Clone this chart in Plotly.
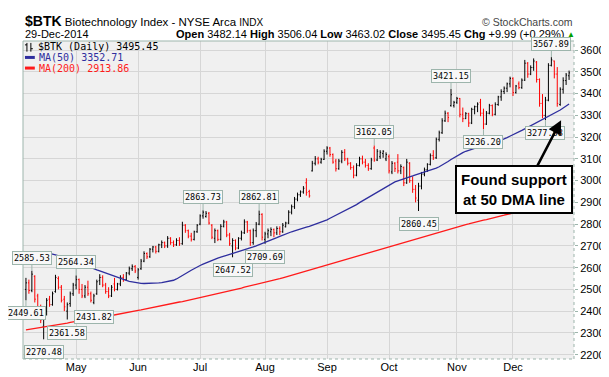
import plotly.graph_objects as go
import pandas as pd

# ---------------- data ----------------
holidays = ["2014-04-18", "2014-05-26", "2014-07-04", "2014-09-01", "2014-11-27", "2014-12-25"]
dates = [d for d in pd.bdate_range("2014-04-07", "2014-12-29") if d.strftime("%Y-%m-%d") not in holidays]

opens = [2500, 2530, 2495, 2560, 2470, 2420, 2330, 2400, 2455, 2430, 2490, 2550, 2510, 2455, 2400, 2435, 2480,
         2520, 2545, 2500, 2470, 2510, 2480, 2440, 2480, 2540, 2555, 2520, 2490, 2470, 2525, 2500, 2525, 2555, 2545, 2575, 2595, 2605,
         2555, 2595, 2630, 2665, 2650, 2685, 2695, 2675, 2705, 2715, 2700, 2735, 2715, 2705, 2725, 2710, 2795, 2770, 2745, 2730, 2765,
         2800, 2838, 2835, 2850, 2795, 2735, 2770, 2730, 2790, 2810, 2750, 2700, 2725, 2690, 2735, 2760, 2810, 2770, 2715, 2770, 2800, 2845,
         2730, 2755, 2765, 2775, 2760, 2780, 2765, 2788, 2805, 2855, 2880, 2915, 2935, 2948, 2990, 2950, 3045, 3080, 3100, 3085, 3098,
         3135, 3150, 3120, 3090, 3055, 3090, 3130, 3100, 3080, 3060, 3025, 3070, 3100, 3085, 3070, 3055, 3150, 3095, 3110, 3125, 3100,
         3110, 3040, 3080, 3085, 3045, 3060, 2990, 3080, 3000, 2960, 2910, 2975, 3030, 3050, 3075, 3115, 3105, 3190, 3220, 3275, 3310, 3345, 3345,
         3360, 3378, 3305, 3285, 3308, 3265, 3328, 3340, 3360, 3310, 3260, 3310, 3345, 3305, 3350, 3385, 3410, 3425, 3445,
         3470, 3405, 3445, 3428, 3462, 3540, 3490, 3520, 3545, 3465, 3355, 3300, 3370, 3530, 3550, 3490, 3350, 3420, 3460, 3482.14]
highs = [2553, 2545, 2585.53, 2565, 2480, 2430, 2410, 2460, 2470, 2490, 2567, 2560, 2520, 2470, 2440, 2490, 2530,
         2564.34, 2550, 2525, 2520, 2540, 2490, 2480, 2545, 2570, 2565, 2530, 2510, 2520, 2553, 2530, 2565, 2570, 2580, 2605, 2615, 2612,
         2598, 2640, 2675, 2670, 2690, 2700, 2700, 2710, 2725, 2720, 2745, 2740, 2725, 2735, 2740, 2811, 2800, 2775, 2760, 2770, 2800,
         2845, 2863.73, 2860, 2856, 2800, 2780, 2775, 2800, 2820, 2815, 2760, 2735, 2730, 2740, 2770, 2822, 2815, 2775, 2780, 2810, 2862.81, 2850,
         2765, 2780, 2785, 2780, 2790, 2790, 2805, 2811, 2864, 2890, 2925, 2945, 2955, 2975, 3011, 2958, 3091, 3113, 3110, 3105, 3144,
         3158, 3155, 3125, 3100, 3100, 3140, 3145, 3105, 3085, 3070, 3080, 3110, 3115, 3100, 3080, 3105, 3162.05, 3145, 3140, 3140, 3130,
         3120, 3090, 3085, 3122, 3075, 3065, 3100, 3085, 3020, 2980, 2990, 3040, 3060, 3080, 3125, 3140, 3198, 3230, 3287, 3322, 3315, 3421.15, 3367,
         3385, 3380, 3336, 3315, 3312, 3335, 3345, 3360, 3376, 3331, 3320, 3353, 3350, 3360, 3390, 3420, 3433, 3451, 3478,
         3475, 3440, 3456, 3470, 3555, 3545, 3530, 3562, 3550, 3470, 3398, 3385, 3540, 3567.89, 3552, 3522, 3429, 3475, 3495, 3506.04]
lows = [2449.61, 2480, 2487, 2440, 2410, 2345, 2270.48, 2380, 2420, 2425, 2485, 2500, 2440, 2400, 2361.58, 2420, 2470,
        2500, 2480, 2460, 2460, 2470, 2440, 2431.82, 2475, 2520, 2510, 2480, 2460, 2465, 2491, 2495, 2515, 2535, 2540, 2565, 2585, 2575,
        2545, 2590, 2625, 2640, 2645, 2670, 2665, 2670, 2690, 2690, 2691, 2705, 2695, 2700, 2700, 2705, 2760, 2735, 2720, 2725, 2760,
        2795, 2825, 2830, 2798, 2731, 2713, 2722, 2725, 2785, 2740, 2700, 2647.52, 2680, 2685, 2725, 2755, 2760, 2700, 2705, 2740, 2795, 2725,
        2709.69, 2735, 2745, 2740, 2750, 2750, 2760, 2785, 2800, 2845, 2870, 2905, 2925, 2940, 2931, 2922, 3042, 3070, 3075, 3078, 3095,
        3120, 3110, 3078, 3042, 3050, 3080, 3090, 3070, 3050, 3011, 3020, 3065, 3075, 3060, 3045, 3050, 3087, 3090, 3100, 3105, 3090,
        3033, 3030, 3040, 3033, 3030, 2975, 2985, 2990, 2944, 2900, 2860.45, 2960, 3020, 3040, 3070, 3095, 3100, 3180, 3215, 3270, 3269, 3340, 3336,
        3353, 3291, 3269, 3283, 3247, 3260, 3305, 3315, 3296, 3236.20, 3256, 3305, 3296, 3300, 3344, 3367, 3398, 3407, 3429,
        3389, 3400, 3420, 3422, 3458, 3473, 3485, 3505, 3451, 3340, 3287, 3277.88, 3365, 3525, 3470, 3340, 3344, 3400, 3440, 3463.02]
closes = [2530, 2495, 2570, 2455, 2420, 2360, 2395, 2450, 2430, 2480, 2555, 2510, 2450, 2420, 2430, 2480, 2520,
          2545, 2500, 2470, 2510, 2480, 2450, 2470, 2535, 2555, 2520, 2490, 2470, 2510, 2500, 2525, 2555, 2545, 2575, 2595, 2605, 2585,
          2590, 2630, 2665, 2650, 2685, 2695, 2675, 2705, 2715, 2700, 2735, 2715, 2705, 2725, 2710, 2795, 2770, 2745, 2730, 2765, 2795,
          2838, 2855, 2850, 2805, 2740, 2770, 2730, 2790, 2810, 2750, 2710, 2725, 2690, 2735, 2760, 2810, 2770, 2715, 2770, 2800, 2845, 2740,
          2755, 2770, 2775, 2760, 2780, 2765, 2795, 2805, 2855, 2880, 2915, 2935, 2948, 2965, 2945, 2930, 3080, 3100, 3085, 3098, 3135,
          3150, 3120, 3085, 3055, 3090, 3130, 3100, 3080, 3060, 3025, 3070, 3100, 3085, 3070, 3055, 3095, 3095, 3135, 3130, 3135, 3120,
          3045, 3080, 3055, 3045, 3065, 2990, 3085, 3000, 2960, 2920, 2975, 3030, 3050, 3075, 3115, 3105, 3190, 3220, 3275, 3310, 3290, 3395, 3360,
          3378, 3305, 3285, 3308, 3265, 3328, 3340, 3352, 3310, 3260, 3310, 3345, 3305, 3350, 3385, 3410, 3425, 3445, 3470,
          3405, 3435, 3428, 3462, 3540, 3490, 3520, 3550, 3465, 3355, 3300, 3370, 3530, 3555, 3490, 3355, 3420, 3460, 3485.46, 3495.45]

ma50 = [2673, 2673, 2672, 2671, 2670, 2668, 2667, 2666, 2664, 2662, 2659, 2655, 2651, 2647, 2643, 2639, 2634,
        2629, 2623, 2617, 2612, 2607, 2601, 2596, 2590, 2585, 2580, 2575, 2570, 2565, 2559, 2553, 2549, 2545, 2541, 2537, 2534, 2531,
        2529, 2528, 2527, 2527, 2527, 2528, 2529, 2530, 2531, 2533, 2535, 2538, 2542, 2548, 2555, 2563, 2572, 2580, 2588, 2596, 2603,
        2610, 2616, 2622, 2628, 2634, 2639, 2644, 2648, 2652, 2656, 2660, 2664, 2668, 2673, 2677, 2681, 2686, 2691, 2695, 2700, 2705, 2710,
        2715, 2720, 2726, 2732, 2738, 2744, 2750, 2755, 2760, 2765, 2769, 2774, 2778, 2782, 2786, 2790, 2795, 2799, 2803, 2808, 2814,
        2820, 2827, 2834, 2841, 2848, 2855, 2862, 2868, 2874, 2882, 2890, 2899, 2907, 2915, 2923, 2931, 2939, 2947, 2955, 2963, 2972,
        2980, 2988, 2994, 2999, 3003, 3007, 3012, 3017, 3022, 3027, 3031, 3035, 3040, 3044, 3048, 3053, 3058, 3064, 3071, 3079, 3088, 3097, 3106,
        3114, 3122, 3129, 3135, 3140, 3145, 3149, 3153, 3157, 3161, 3165, 3169, 3173, 3177, 3182, 3187, 3192, 3198, 3204,
        3210, 3217, 3224, 3231, 3238, 3245, 3252, 3259, 3266, 3273, 3280, 3287, 3294, 3301, 3309, 3317, 3325, 3334, 3343, 3352.71]
ma200 = [2314, 2316, 2318, 2321, 2323, 2325, 2327, 2330, 2332, 2334, 2336, 2339, 2341, 2343, 2345, 2348, 2350,
         2352, 2354, 2357, 2359, 2361, 2363, 2366, 2368, 2370, 2372, 2375, 2377, 2380, 2383, 2385, 2388, 2390, 2393, 2396, 2398, 2401,
         2404, 2406, 2409, 2412, 2414, 2417, 2419, 2422, 2425, 2428, 2430, 2433, 2436, 2439, 2442, 2444, 2447, 2450, 2453, 2456, 2458,
         2461, 2464, 2467, 2470, 2473, 2477, 2480, 2483, 2487, 2490, 2493, 2496, 2500, 2503, 2506, 2510, 2513, 2516, 2519, 2523, 2526, 2529,
         2533, 2536, 2539, 2543, 2546, 2549, 2553, 2557, 2561, 2565, 2569, 2573, 2577, 2581, 2585, 2589, 2593, 2597, 2601, 2605, 2609,
         2613, 2617, 2621, 2625, 2629, 2633, 2637, 2641, 2645, 2649, 2653, 2657, 2661, 2665, 2669, 2673, 2677, 2681, 2685, 2689, 2693,
         2697, 2701, 2705, 2709, 2713, 2717, 2721, 2725, 2729, 2733, 2737, 2741, 2745, 2749, 2753, 2757, 2761, 2765, 2769, 2773, 2777, 2781, 2785,
         2788, 2791, 2795, 2798, 2801, 2805, 2808, 2811, 2815, 2818, 2821, 2825, 2828, 2831, 2835, 2838, 2841, 2845, 2848,
         2851, 2855, 2858, 2861, 2865, 2868, 2871, 2874, 2878, 2881, 2884, 2888, 2891, 2894, 2898, 2901, 2904, 2907, 2911, 2913.86]

high_labels = [2, 17, 60, 79, 118, 144, 178]
low_labels = [0, 6, 14, 23, 70, 81, 133, 155, 176]

symbol = "$BTK"
title_rest = "Biotechnology Index - NYSE Arca"
exchange = "INDX"
note_text = "Found support<br>at 50 DMA line"

# ---------------- figure ----------------
idx = list(range(len(dates)))
month_ticks = [i for i in idx if i > 0 and dates[i].month != dates[i - 1].month]
month_text = [dates[i].strftime("%b") for i in month_ticks]

W, H = 609, 377
L, R, T, B = 15, 575, 33, 362  # plot area in pixels


def px(X):
    return (X - L) / (R - L)


def py(Y):
    return (B - Y) / (B - T)


fig = go.Figure()
fig.add_trace(go.Ohlc(
    x=idx, open=opens, high=highs, low=lows, close=closes,
    increasing=dict(line=dict(color="#000000", width=1)),
    decreasing=dict(line=dict(color="#ff0000", width=1)),
    tickwidth=0.33, showlegend=False, hoverinfo="skip"))
fig.add_trace(go.Scatter(x=idx, y=ma200, mode="lines", line=dict(color="#ff1a1a", width=1.3),
                         showlegend=False, hoverinfo="skip"))
fig.add_trace(go.Scatter(x=idx, y=ma50, mode="lines", line=dict(color="#2e2e9e", width=1.3),
                         showlegend=False, hoverinfo="skip"))

base_font = "Liberation Sans, Arial, sans-serif"
mono_font = "DejaVu Sans Mono, monospace"
box_col = "#9db5ac"

ann = []
# header line 1
ann.append(dict(xref="paper", yref="paper", x=px(15), y=py(12), xanchor="left", yanchor="middle",
                text=f"<b><span style='font-size:14px'>{symbol}</span></b> {title_rest} "
                     f"<span style='font-size:10px'>{exchange}</span>",
                showarrow=False, font=dict(family=base_font, size=11.5, color="#000")))
ann.append(dict(xref="paper", yref="paper", x=px(576), y=py(13), xanchor="right", yanchor="middle",
                text="© StockCharts.com", showarrow=False,
                font=dict(family=base_font, size=10.5, color="#444")))
# header line 2
d_last = dates[-1]
ann.append(dict(xref="paper", yref="paper", x=px(15), y=py(26), xanchor="left", yanchor="middle",
                text=d_last.strftime("%d-%b-%Y"), showarrow=False,
                font=dict(family=base_font, size=11, color="#000")))
chg = closes[-1] - closes[-2]
pct = chg / closes[-2] * 100
ohlc_txt = (f"<b>Open</b> {opens[-1]:.2f} <b>High</b> {highs[-1]:.2f} <b>Low</b> {lows[-1]:.2f} "
            f"<b>Close</b> {closes[-1]:.2f} <b>Chg</b> {chg:+.2f} ({pct:+.2f}%)")
ann.append(dict(xref="paper", yref="paper", x=px(567), y=py(26), xanchor="right", yanchor="middle",
                text=ohlc_txt, showarrow=False, font=dict(family=base_font, size=11, color="#000")))
ann.append(dict(xref="paper", yref="paper", x=px(572), y=py(26), xanchor="center", yanchor="middle",
                text="▲", showarrow=False, font=dict(family=base_font, size=8, color="#00a000")))

# legend texts
ann.append(dict(xref="paper", yref="paper", x=px(28), y=py(39), xanchor="left", yanchor="middle",
                text=f"{symbol} (Daily) {closes[-1]:.2f}", showarrow=False,
                font=dict(family=mono_font, size=10, color="#000")))
ann.append(dict(xref="paper", yref="paper", x=px(29), y=py(50), xanchor="left", yanchor="middle",
                text=f"MA(50) {ma50[-1]:.2f}", showarrow=False,
                font=dict(family=mono_font, size=10, color="#2e2e9e")))
ann.append(dict(xref="paper", yref="paper", x=px(29), y=py(61), xanchor="left", yanchor="middle",
                text=f"MA(200) {ma200[-1]:.2f}", showarrow=False,
                font=dict(family=mono_font, size=10, color="#ff1a1a")))

# price labels
for i in high_labels:
    ann.append(dict(x=i, y=highs[i], text=f"{highs[i]:.2f}", showarrow=True, ax=0, ay=-13,
                    arrowhead=0, arrowwidth=1, arrowcolor=box_col,
                    bgcolor="#f8f8f8", bordercolor=box_col, borderwidth=1, borderpad=1,
                    font=dict(family=mono_font, size=8.5, color="#000")))
for i in low_labels:
    ann.append(dict(x=i, y=lows[i], text=f"{lows[i]:.2f}", showarrow=True, ax=0, ay=13,
                    arrowhead=0, arrowwidth=1, arrowcolor=box_col,
                    bgcolor="#f8f8f8", bordercolor=box_col, borderwidth=1, borderpad=1,
                    font=dict(family=mono_font, size=8.5, color="#000")))

# note box and arrow
ann.append(dict(x=181.3, y=3278, text="", showarrow=True, ax=-27, ay=52,
                arrowhead=2, arrowsize=1.1, arrowwidth=2.5, arrowcolor="#000"))
ann.append(dict(x=165.3, y=2958, text=f"<b>{note_text}</b>", showarrow=False,
                xanchor="center", yanchor="middle", align="center",
                bgcolor="#ffffff", bordercolor="#000", borderwidth=2, borderpad=4,
                font=dict(family=base_font, size=15, color="#000")))

shapes = [
    # plot border
    dict(type="line", xref="paper", yref="paper", x0=0, x1=0, y0=0, y1=1, line=dict(color=box_col, width=1)),
    dict(type="line", xref="paper", yref="paper", x0=0, x1=1, y0=1, y1=1, line=dict(color=box_col, width=1)),
    dict(type="line", xref="paper", yref="paper", x0=0, x1=1, y0=0, y1=0, line=dict(color=box_col, width=1, dash="dot")),
    dict(type="line", xref="paper", yref="paper", x0=1, x1=1, y0=0, y1=1, line=dict(color=box_col, width=1, dash="dot")),
    # legend glyphs
    dict(type="line", xref="paper", yref="paper", x0=px(19), x1=px(19), y0=py(35), y1=py(44), line=dict(color="#000", width=1)),
    dict(type="line", xref="paper", yref="paper", x0=px(23), x1=px(23), y0=py(35), y1=py(44), line=dict(color="#000", width=1)),
    dict(type="line", xref="paper", yref="paper", x0=px(17), x1=px(19), y0=py(37), y1=py(37), line=dict(color="#000", width=1)),
    dict(type="line", xref="paper", yref="paper", x0=px(23), x1=px(25), y0=py(41), y1=py(41), line=dict(color="#000", width=1)),
    dict(type="line", xref="paper", yref="paper", x0=px(17), x1=px(27), y0=py(50), y1=py(50), line=dict(color="#2e2e9e", width=3)),
    dict(type="line", xref="paper", yref="paper", x0=px(17), x1=px(27), y0=py(61), y1=py(61), line=dict(color="#ff1a1a", width=3)),
]

fig.update_layout(
    width=W, height=H,
    margin=dict(l=L, r=W - R, t=T, b=H - B, pad=0),
    paper_bgcolor="#ffffff", plot_bgcolor="#f0f0f0",
    font=dict(family=base_font, size=11, color="#000"),
    showlegend=False,
    annotations=ann, shapes=shapes,
    xaxis=dict(range=[-1, 185.67], tickmode="array", tickvals=month_ticks, ticktext=month_text,
               showgrid=True, gridcolor="#d6d6d6", gridwidth=1, zeroline=False, showline=False,
               ticks="", tickfont=dict(size=11), rangeslider=dict(visible=False), fixedrange=True),
    yaxis=dict(range=[2180, 3642], side="right", tick0=2200, dtick=100, showgrid=True,
               gridcolor="#d6d6d6", gridwidth=1, zeroline=False, showline=False,
               ticks="outside", ticklen=3, tickcolor=box_col, tickfont=dict(size=11), fixedrange=True),
)

fig.write_html("out.html")
